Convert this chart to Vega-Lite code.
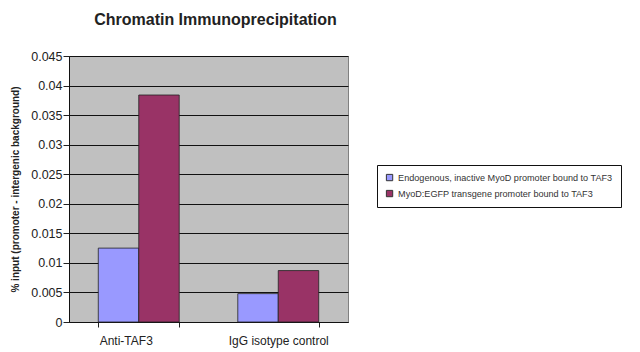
{
  "$schema": "https://vega.github.io/schema/vega-lite/v6.json",
  "autosize": "none",
  "width": 279,
  "height": 266,
  "padding": {"left": 69, "top": 56, "right": 292, "bottom": 30},
  "background": "white",
  "title": {
    "text": "Chromatin Immunoprecipitation",
    "font": "Liberation Sans",
    "fontSize": 16,
    "fontWeight": "bold",
    "color": "#222222",
    "anchor": "middle",
    "dx": 7,
    "offset": 22
  },
  "data": {
    "values": [
      {"group": "Anti-TAF3", "series": "Endogenous, inactive MyoD promoter bound to TAF3", "value": 0.0125},
      {"group": "Anti-TAF3", "series": "MyoD:EGFP transgene promoter bound to TAF3", "value": 0.0384},
      {"group": "IgG isotype control", "series": "Endogenous, inactive MyoD promoter bound to TAF3", "value": 0.0048},
      {"group": "IgG isotype control", "series": "MyoD:EGFP transgene promoter bound to TAF3", "value": 0.0087}
    ]
  },
  "mark": {"type": "bar", "stroke": "#222222", "strokeWidth": 0.8},
  "encoding": {
    "x": {
      "field": "group",
      "type": "nominal",
      "sort": null,
      "scale": {"paddingInner": 0.42, "paddingOuter": 0.21},
      "axis": {
        "title": null,
        "labelAngle": 0,
        "labelFont": "Liberation Sans",
        "labelFontSize": 12,
        "labelColor": "#222222",
        "labelPadding": 8,
        "labelOffset": {"condition": {"test": "datum.value == 'Anti-TAF3'", "value": -13}, "value": 0},
        "tickBand": "extent",
        "tickColor": "#222222",
        "tickSize": 5,
        "domainColor": "#111111",
        "grid": false
      }
    },
    "xOffset": {"field": "series", "type": "nominal", "sort": null},
    "y": {
      "field": "value",
      "type": "quantitative",
      "scale": {"domain": [0, 0.045], "nice": false},
      "axis": {
        "title": "% input (promoter - intergenic background)",
        "titleFont": "Liberation Sans",
        "titleFontSize": 10,
        "titleFontWeight": "bold",
        "titleColor": "#222222",
        "titlePadding": 10,
        "values": [0, 0.005, 0.01, 0.015, 0.02, 0.025, 0.03, 0.035, 0.04, 0.045],
        "labelExpr": "datum.value == 0 ? '0' : format(datum.value, '.3~f')",
        "labelFont": "Liberation Sans",
        "labelFontSize": 12.5,
        "labelColor": "#222222",
        "labelPadding": 1,
        "tickColor": "#222222",
        "tickSize": 6,
        "domainColor": "#111111",
        "grid": true,
        "gridColor": "#111111",
        "gridWidth": 1
      }
    },
    "color": {
      "field": "series",
      "type": "nominal",
      "sort": null,
      "scale": {"range": ["#9999ff", "#993366"]},
      "legend": {
        "title": null,
        "orient": "none",
        "legendX": 308,
        "legendY": 109,
        "strokeColor": "#111111",
        "fillColor": "white",
        "padding": 8,
        "symbolType": "square",
        "symbolSize": 40,
        "symbolStrokeColor": "#333333",
        "symbolStrokeWidth": 1,
        "labelFont": "Liberation Sans",
        "labelFontSize": 9.1,
        "labelColor": "#333333",
        "labelLimit": 300,
        "rowPadding": 5
      }
    }
  },
  "config": {
    "view": {"fill": "#c0c0c0", "stroke": "#808080"}
  }
}
